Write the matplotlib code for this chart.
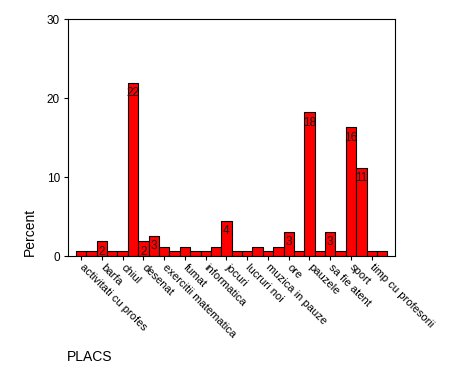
import matplotlib
matplotlib.use('Agg')
import matplotlib.pyplot as plt
import numpy as np

plt.rcParams['font.family'] = ['Liberation Sans', 'DejaVu Sans']

# percent per category (30 bars, only every other one is labelled on the axis)
percent = [0.6, 0.6, 1.86, 0.6, 0.6, 21.9, 1.86, 2.5, 1.2, 0.6,
           1.2, 0.6, 0.6, 1.2, 4.4, 0.6, 0.6, 1.2, 0.6, 1.2,
           3.1, 0.6, 18.2, 0.6, 3.1, 0.6, 16.3, 11.2, 0.6, 0.6]
bar_labels = ['', '', '2', '', '', '22', '2', '3', '', '',
              '', '', '', '', '4', '', '', '', '', '',
              '3', '', '18', '', '3', '', '16', '11', '', '']
tick_labels = ['activitati cu profes', 'barfa', 'chiul', 'desenat',
               'exercitii matematica', 'fumat', 'informatica', 'jocuri',
               'lucruri noi', 'muzica in pauze', 'ore', 'pauzele',
               'sa fie atent', 'sport', 'timp cu profesorii']

fig = plt.figure(figsize=(4.74, 3.79), dpi=100)
ax = fig.add_axes([0.1441, 0.3245, 0.834 - 0.1441, 0.949 - 0.3245])

x = np.arange(1, len(percent) + 1)
bars = ax.bar(x, percent, width=1.0, color='#ff0000', edgecolor='black', linewidth=0.8)

# value labels just inside the top of the bar
for b, lab in zip(bars, bar_labels):
    if lab:
        ax.annotate(lab, (b.get_x() + b.get_width() / 2, b.get_height()),
                    xytext=(0, -3), textcoords='offset points',
                    ha='center', va='top', fontsize=8.5, color='#1a1a1a')

ax.set_xlim(-0.24, 31.27)
ax.set_ylim(0, 30)
ax.set_yticks([0, 10, 20, 30])
ax.set_xticks(x[::2])
ax.set_xticklabels(tick_labels, rotation=-45, ha='left', va='center',
                   rotation_mode='anchor', fontsize=8)
ax.tick_params(axis='y', labelsize=8.5, length=3, width=0.8, pad=3)
ax.tick_params(axis='x', length=3, width=0.8, pad=4)
for s in ax.spines.values():
    s.set_linewidth(0.8)

fig.text(30 / 474, 1 - 256 / 379, 'Percent', rotation=90, ha='center', va='bottom', fontsize=10)
fig.text(67 / 474, 1 - 357 / 379, 'PLACS', ha='left', va='center', fontsize=10)

fig.savefig('out.png', dpi=100)
